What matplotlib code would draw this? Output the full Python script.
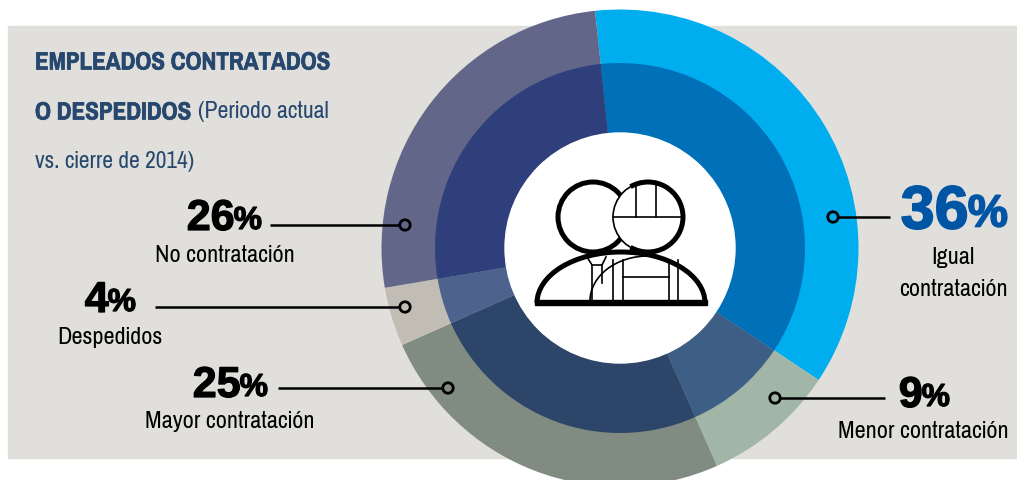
import logging
import matplotlib
matplotlib.use("Agg")
import matplotlib.pyplot as plt
import matplotlib.patheffects as pe
from matplotlib.patches import Circle, Arc, Rectangle

logging.getLogger("matplotlib.font_manager").setLevel(logging.ERROR)

categories = ["Igual contratación", "Menor contratación", "Mayor contratación", "Despedidos", "No contratación"]
values = [36, 9, 25, 4, 26]
outer_colors = ["#00AEEF", "#A2B6A8", "#808C82", "#C1BDB5", "#62678A"]
inner_colors = ["#0070B8", "#3E5F85", "#2D4568", "#4D628C", "#2F3F7B"]

NAVY = "#27486E"
NARROW = ["Pragati Narrow", "PT Sans Narrow", "Roboto", "DejaVu Sans"]
HEAVY = ["Liberation Sans", "DejaVu Sans"]
plt.rcParams["font.family"] = NARROW

fig = plt.figure(figsize=(10.17, 4.8), dpi=100)
ax = fig.add_axes([0, 0, 1, 1])

# background panel
ax.add_patch(Rectangle((8, 26), 1009, 432, color="#E0DFDB", zorder=0))

# rings, y axis is flipped so counterclock=True draws clockwise on screen
center = (620, 248)
ax.pie(values, colors=outer_colors, radius=238.5, center=center, startangle=-96,
       counterclock=True, frame=True, wedgeprops={"linewidth": 0})
ax.pie(values, colors=inner_colors, radius=185, center=center, startangle=-96,
       counterclock=True, frame=True, wedgeprops={"linewidth": 0})
ax.add_patch(Circle(center, 115, color="white", zorder=3))

ax.set_xlim(0, 1017)
ax.set_ylim(480, 0)
ax.set_aspect("equal")
ax.axis("off")

# title
thick = [pe.withStroke(linewidth=0.5, foreground=NAVY)]
ax.text(35, 62, "EMPLEADOS CONTRATADOS", color=NAVY, fontsize=19.6, fontweight="bold",
        va="center", path_effects=thick)
ax.text(35, 112, "O DESPEDIDOS", color=NAVY, fontsize=19.6, fontweight="bold",
        va="center", path_effects=thick)
ax.text(198, 112, "(Periodo actual", color=NAVY, fontsize=18.7, va="center")
ax.text(35, 161, "vs. cierre de 2014)", color=NAVY, fontsize=18.4, va="center")


def big_number(x_right, y, num, size=31, color="black", stroke=0.9):
    # number + smaller percent sign, x_right is where the % ends
    effects = [pe.withStroke(linewidth=stroke, foreground=color)]
    pct = ax.text(x_right, y + 2, "%", color=color, fontsize=size * 0.74, family=HEAVY,
                  fontweight="bold", ha="right", va="center", zorder=6, path_effects=effects)
    fig.canvas.draw()
    box = pct.get_window_extent()
    xx = ax.transData.inverted().transform((box.x0, 0))[0]
    ax.text(xx + 1, y, num, color=color, fontsize=size, family=HEAVY, fontweight="bold",
            ha="right", va="center", zorder=6, path_effects=effects)


def leader(x0, x1, y):
    ax.plot([x0, x1], [y, y], color="black", lw=1.8, zorder=5, solid_capstyle="butt")


def dot(x, y):
    ax.add_patch(Circle((x, y), 5.2, facecolor="none", edgecolor="black", lw=2, zorder=6))


label_size = 19

big_number(262, 219, "26")
ax.text(225, 256, categories[4], fontsize=label_size, ha="center", va="center")
leader(270, 400, 225)
dot(405, 225)

big_number(136, 301, "4")
ax.text(110, 337, categories[3], fontsize=label_size, ha="center", va="center")
leader(155, 400, 307)
dot(405, 307)

big_number(268, 386, "25")
ax.text(230, 422, categories[2], fontsize=label_size, ha="center", va="center")
leader(278, 443, 388)
dot(448, 388)

big_number(1008, 213, "36", size=44, color="#0055A5", stroke=1.2)
ax.text(953, 258, "Igual", fontsize=label_size, ha="center", va="center")
ax.text(953, 290, "contratación", fontsize=label_size, ha="center", va="center")
leader(838, 890, 217)
dot(833, 217)

big_number(950, 396, "9")
ax.text(923, 432, categories[1], fontsize=label_size, ha="center", va="center")
leader(780, 885, 398)
dot(775, 398)

# icon: two people
z = 8
ax.add_patch(Arc((621, 303), 168, 102, theta1=180, theta2=360, edgecolor="black", lw=3.6, zorder=z))
ax.add_patch(Rectangle((535, 300), 172, 5, color="black", zorder=z + 2))
ax.plot([587, 592, 602, 606], [257, 265, 265, 257], color="black", lw=1.2, zorder=z)
ax.plot([592, 592], [265, 301], color="black", lw=1.2, zorder=z)
ax.plot([602, 602], [265, 283], color="black", lw=1.2, zorder=z)
# thin shoulder of the right person
ax.add_patch(Arc((648, 301), 116, 90, theta1=180, theta2=270, edgecolor="black", lw=1.2, zorder=z))
for x in [613, 623, 669, 678]:
    ax.plot([x, x], [260, 301], color="black", lw=1.2, zorder=z)
ax.plot([623, 669], [277, 277], color="black", lw=1.2, zorder=z)
# heads
ax.add_patch(Circle((593, 217), 35, facecolor="white", edgecolor="black", lw=3.6, zorder=z + 1))
ax.add_patch(Circle((648, 217), 35, facecolor="white", edgecolor="black", lw=1.2, zorder=z + 2))
ax.add_patch(Arc((648, 217), 70, 70, theta1=-120, theta2=120, edgecolor="black", lw=3.6, zorder=z + 2))
ax.plot([613, 683], [217, 217], color="black", lw=1.2, zorder=z + 2)
for x in [636, 656]:
    ax.plot([x, x], [184, 217], color="black", lw=1.2, zorder=z + 2)

fig.savefig("out.png", dpi=100)
